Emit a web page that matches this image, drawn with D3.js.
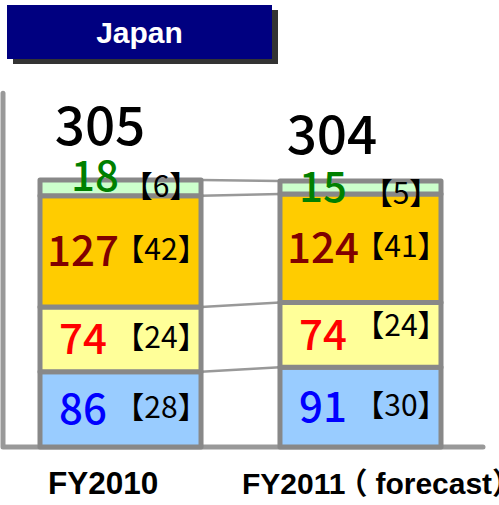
<!DOCTYPE html>
<html>
<head>
<meta charset="utf-8">
<script src="https://cdn.jsdelivr.net/npm/d3@7/dist/d3.min.js"></script>
<style>
  html, body { margin: 0; padding: 0; background: #fff; }
  svg { display: block; }
</style>
</head>
<body>
<svg id="chart" width="499" height="505"></svg>
<script>
// ---- data ----
const title = "Japan";
const categories = ["FY2010", "FY2011（forecast）"];
const totals = [305, 304];
const segmentKeys = ["blue", "yellow", "orange", "green"]; // stacked bottom to top
const blueValues = [86, 91];
const yellowValues = [74, 74];
const orangeValues = [127, 124];
const greenValues = [18, 15];
const blueShares = [28, 30];
const yellowShares = [24, 24];
const orangeShares = [42, 41];
const greenShares = [6, 5];

// ---- styling ----
const fills = { blue: "#99ccff", yellow: "#ffff99", orange: "#ffcc00", green: "#ccffcc" };
const labelColors = { blue: "#0000ff", yellow: "#ff0000", orange: "#800000", green: "#008000" };
const numFont = "'Noto Sans CJK JP', 'Noto Sans', sans-serif";
const latinBold = "'Liberation Sans', Arial, 'Noto Sans CJK JP', sans-serif";

// per-label nudges (dx, dy) for labels that sit off the regular grid
const valueNudge = { "FY2010|green": [12, -12] };
const shareNudge = { "FY2011（forecast）|green": [0, 8], "FY2011（forecast）|yellow": [0, -8] };
const totalNudge = { "FY2010": [4, -4], "FY2011（forecast）": [-4, 4] };
const catLabelX = { "FY2010": 8, "FY2011（forecast）": -38 };
const catLabelSize = { "FY2010": 31.5, "FY2011（forecast）": 30 };

const rows = categories.map((c, i) => ({
  category: c,
  blue: blueValues[i], yellow: yellowValues[i], orange: orangeValues[i], green: greenValues[i]
}));
const shares = { blue: blueShares, yellow: yellowShares, orange: orangeShares, green: greenShares };

const svg = d3.select("#chart");

const x = d3.scaleBand().domain(categories).range([40, 441]).paddingInner(0.329).paddingOuter(0);
const y = d3.scaleLinear().domain([0, 305]).range([447, 180]);
const axisTopValue = 404;

const stacked = d3.stack().keys(segmentKeys)(rows);

// ---- title box ----
const tb = svg.append("g");
tb.append("rect").attr("x", 13).attr("y", 10).attr("width", 265).attr("height", 54).attr("fill", "#333333");
tb.append("rect").attr("x", 7).attr("y", 5).attr("width", 265).attr("height", 54).attr("fill", "#000080");
tb.append("text").attr("x", 139.5).attr("y", 43).attr("text-anchor", "middle")
  .attr("font-family", latinBold).attr("font-weight", "bold").attr("font-size", 30)
  .attr("fill", "#ffffff").text(title);

// ---- axes ----
svg.append("path")
  .attr("d", d3.line()([[3, y(axisTopValue)], [3, y(0)], [483, y(0)]]))
  .attr("fill", "none").attr("stroke", "#999999").attr("stroke-width", 5)
  .attr("stroke-linecap", "round").attr("stroke-linejoin", "round");

// ---- connector lines between stacked boundaries ----
const c0 = categories[0], c1 = categories[1];
stacked.forEach(layer => {
  svg.append("line")
    .attr("x1", x(c0) + x.bandwidth()).attr("y1", y(layer[0][1]))
    .attr("x2", x(c1)).attr("y2", y(layer[1][1]))
    .attr("stroke", "#999999").attr("stroke-width", 2.5);
});

// ---- stacked bars ----
stacked.forEach(layer => {
  const key = layer.key;
  svg.append("g").selectAll("rect").data(layer).join("rect")
    .attr("x", d => x(d.data.category))
    .attr("y", d => y(d[1]))
    .attr("width", x.bandwidth())
    .attr("height", d => y(d[0]) - y(d[1]))
    .attr("fill", fills[key])
    .attr("stroke", "#888888").attr("stroke-width", 5)
    .attr("stroke-linejoin", "round");
});

// ---- segment labels ----
stacked.forEach(layer => {
  const key = layer.key;
  layer.forEach((d, i) => {
    const cat = d.data.category;
    const mid = (y(d[0]) + y(d[1])) / 2;
    const vn = valueNudge[cat + "|" + key] || [0, 0];
    const sn = shareNudge[cat + "|" + key] || [0, 0];
    svg.append("text")
      .attr("x", x(cat) + 43 + vn[0]).attr("y", mid + 15 + vn[1])
      .attr("text-anchor", "middle")
      .attr("font-family", numFont).attr("font-weight", 500).attr("font-size", 42)
      .attr("fill", labelColors[key])
      .text(d.data[key]);
    svg.append("text")
      .attr("x", x(cat) + 121 + sn[0]).attr("y", mid + 9 + sn[1])
      .attr("text-anchor", "middle")
      .attr("font-family", numFont).attr("font-size", 30)
      .attr("fill", "#000000")
      .text("【" + shares[key][i] + "】");
  });
});

// ---- totals ----
categories.forEach((cat, i) => {
  const tn = totalNudge[cat];
  svg.append("text")
    .attr("x", x(cat) + 56 + tn[0]).attr("y", y(totals[i]) - 31 + tn[1])
    .attr("text-anchor", "middle")
    .attr("font-family", numFont).attr("font-weight", 500).attr("font-size", 53)
    .attr("fill", "#000000").text(totals[i]);
});

// ---- category labels (full-width bracket pulled in a little) ----
categories.forEach(cat => {
  const t = svg.append("text")
    .attr("x", x(cat) + catLabelX[cat]).attr("y", 494)
    .attr("font-family", latinBold).attr("font-weight", "bold").attr("font-size", catLabelSize[cat])
    .attr("fill", "#000000");
  const parts = cat.split("（");
  if (parts.length === 1) {
    t.text(cat);
  } else {
    t.append("tspan").text(parts[0]);
    t.append("tspan").attr("dx", -8).text("（");
    t.append("tspan").attr("dx", 8).text(parts[1]);
  }
});
</script>
</body>
</html>
